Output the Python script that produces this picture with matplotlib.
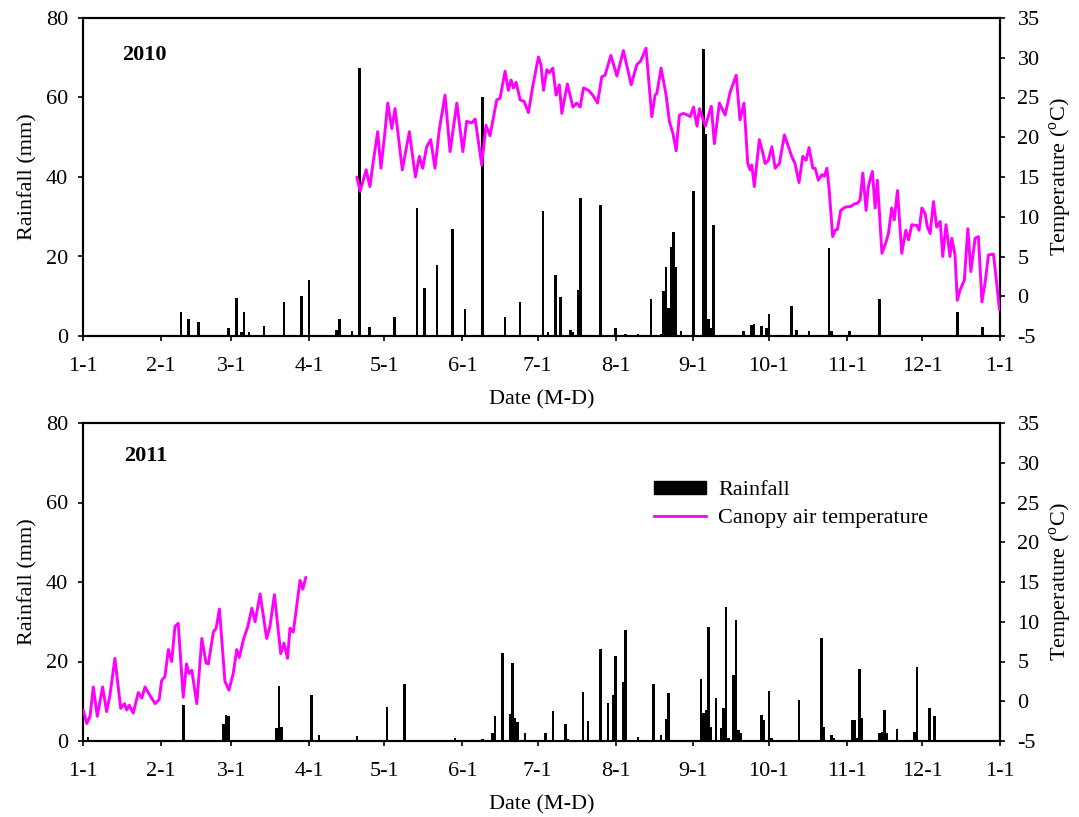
import matplotlib
matplotlib.use("Agg")
import matplotlib.pyplot as plt
from matplotlib.patches import Patch
from matplotlib.lines import Line2D

plt.rcParams['font.family'] = ['Liberation Serif', 'DejaVu Serif']
plt.rcParams['mathtext.fontset'] = 'custom'
plt.rcParams['mathtext.rm'] = 'Liberation Serif'
plt.rcParams['axes.unicode_minus'] = False

# ---- data (day of year, 0 = Jan 1) ----
month_starts = [0, 31, 59, 90, 120, 151, 181, 212, 243, 273, 304, 334, 365]
month_labels = ["1-1", "2-1", "3-1", "4-1", "5-1", "6-1", "7-1", "8-1",
                "9-1", "10-1", "11-1", "12-1", "1-1"]

rain2010_day = [39, 42, 46, 58, 61, 63, 64, 66, 72, 80, 87, 90, 101, 102, 107,
                110, 114, 124, 133, 136, 141, 147, 152, 159, 168, 174, 183,
                185, 188, 190, 194, 195, 197, 198, 206, 212, 216, 221, 226,
                230, 231, 232, 233, 234, 235, 236, 238, 243, 247, 248, 249,
                250, 251, 263, 266, 267, 270, 272, 273, 282, 284, 289, 297,
                298, 305, 317, 348, 358]
rain2010_mm = [6.1, 4.2, 3.5, 1.9, 9.6, 1.0, 6.1, 1.0, 2.5, 8.5, 10.1, 14.1,
               1.5, 4.4, 1.3, 67.4, 2.2, 4.7, 32.1, 12.2, 17.9, 26.8, 6.7,
               60.2, 4.9, 8.6, 31.4, 1.0, 15.3, 9.9, 1.6, 1.0, 11.6, 34.6,
               32.9, 1.9, 0.5, 0.6, 9.4, 0.4, 11.4, 17.4, 7.0, 22.3, 26.1,
               17.4, 1.3, 36.6, 72.2, 50.7, 4.4, 1.9, 27.8, 1.2, 2.8, 3.1,
               2.5, 1.9, 5.5, 7.5, 1.5, 1.2, 22.1, 1.3, 1.2, 9.2, 6.0, 2.2]

temp2010_day = [109.0, 110.3, 112.7, 114.2, 115.6, 117.3, 118.6, 120.0, 121.3,
                122.9, 124.2, 127.1, 129.9, 132.3, 133.9, 135.2, 136.8, 138.4,
                140.1, 141.8, 144.1, 146.1, 148.8, 151.2, 152.7, 154.7, 156.1,
                158.7, 160.4, 162.0, 164.7, 166.0, 168.0, 169.3, 170.4, 171.3,
                172.4, 174.0, 175.6, 177.3, 179.0, 181.3, 182.3, 183.3, 184.6,
                185.6, 187.0, 188.3, 189.6, 190.6, 192.8, 195.0, 196.5, 197.9,
                199.2, 201.2, 202.9, 204.8, 206.5, 207.8, 210.1, 212.5, 215.1,
                218.2, 220.4, 222.0, 224.1, 226.4, 227.7, 228.4, 230.1, 232.0,
                233.4, 234.8, 236.1, 237.4, 239.0, 240.6, 241.7, 243.0, 244.4,
                245.4, 247.7, 250.1, 251.3, 253.3, 255.6, 257.6, 260.0, 261.5,
                263.1, 264.6, 265.5, 266.2, 267.2, 269.2, 270.6, 271.5, 272.8,
                274.2, 275.5, 277.2, 279.2, 280.8, 282.1, 283.4, 285.0, 286.5,
                287.8, 289.0, 290.5, 291.4, 292.7, 294.1, 295.1, 296.1, 297.0,
                298.4, 299.4, 300.3, 301.6, 303.3, 305.6, 306.9, 308.2, 309.3,
                310.4, 311.7, 312.6, 314.2, 315.3, 316.2, 318.0, 319.5, 320.6,
                321.9, 322.9, 324.2, 325.9, 327.5, 328.6, 329.9, 331.9, 332.8,
                333.9, 335.2, 336.1, 337.2, 338.5, 339.8, 341.2, 342.2, 343.5,
                345.1, 345.8, 347.1, 348.0, 349.1, 350.8, 352.2, 353.4, 355.1,
                356.4, 357.8, 359.1, 360.4, 362.4, 363.7, 364.8]
temp2010_c = [15.0, 13.2, 15.9, 13.8, 17.1, 20.7, 16.1, 20.1, 24.3,
              21.1, 23.6, 15.9, 20.7, 15.0, 17.6, 16.1, 18.8, 19.7,
              16.1, 20.9, 25.3, 18.2, 24.3, 18.2, 22.0, 21.8, 22.3,
              16.5, 21.5, 20.2, 24.7, 24.9, 28.3, 25.9, 27.2, 26.2,
              26.9, 24.7, 24.5, 23.1, 26.4, 30.1, 29.1, 25.9, 28.5,
              28.1, 28.7, 25.3, 26.6, 23.0, 26.7, 23.8, 24.3, 23.8,
              26.2, 25.9, 25.3, 24.3, 27.6, 27.8, 30.3, 27.7, 30.9,
              26.6, 29.1, 29.6, 31.2, 22.6, 25.3, 25.5, 28.7, 25.5,
              22.0, 20.5, 18.3, 22.8, 23.0, 22.8, 22.6, 23.8, 21.4,
              23.6, 21.4, 23.9, 19.2, 24.3, 22.8, 25.7, 27.8, 22.2,
              24.3, 16.7, 15.9, 16.5, 13.8, 19.7, 18.0, 16.7, 17.1,
              18.8, 16.1, 16.7, 20.3, 18.8, 17.6, 16.7, 14.3, 17.6,
              17.1, 18.7, 16.1, 16.1, 14.6, 15.3, 15.1, 16.1, 13.4,
              7.5, 8.3, 8.4, 10.8, 11.2, 11.3, 11.6, 11.7, 12.1,
              15.5, 10.8, 13.8, 15.7, 11.1, 14.6, 5.4, 6.7, 7.9,
              11.1, 9.6, 13.3, 5.4, 8.3, 7.1, 9.0, 8.9, 8.3,
              11.1, 10.4, 8.7, 7.9, 11.9, 8.7, 9.4, 5.0, 9.0,
              5.0, 7.3, 5.2, -0.5, 0.8, 2.0, 8.5, 3.1, 7.3,
              7.5, -0.7, 1.8, 5.2, 5.3, 1.6, -1.7]

rain2011_day = [2, 40, 56, 57, 58, 77, 78, 79, 91, 94, 109, 121, 128, 129,
                148, 159, 163, 164, 167, 170, 171, 172, 173, 176, 184, 187,
                190, 192, 193, 199, 201, 206, 209, 211, 212, 215, 216, 221,
                227, 230, 232, 233, 246, 247, 248, 249, 250, 252, 254, 255,
                256, 257, 259, 260, 261, 262, 270, 271, 273, 274, 285, 294,
                295, 298, 299, 306, 307, 308, 309, 310, 317, 318, 319, 320,
                324, 331, 332, 333, 337, 339]
rain2011_mm = [1.0, 9.1, 4.4, 6.5, 6.3, 3.2, 13.8, 3.4, 11.6, 1.5, 1.3, 8.5,
               14.3, 0.3, 0.7, 0.4, 2.1, 6.3, 22.2, 6.8, 19.5, 5.7, 4.9, 2.1,
               2.1, 7.6, 0.3, 4.4, 0.4, 12.4, 5.1, 23.1, 9.5, 11.6, 21.5,
               14.9, 27.8, 1.1, 14.3, 1.5, 5.5, 12.2, 15.7, 7.1, 7.8, 28.6,
               3.4, 10.7, 3.2, 8.2, 33.8, 0.7, 16.6, 30.4, 2.8, 2.1, 6.5,
               5.3, 12.6, 0.8, 10.3, 25.8, 3.4, 1.5, 0.8, 5.3, 5.3, 0.7,
               18.0, 5.7, 1.9, 2.3, 7.8, 1.9, 2.9, 2.3, 18.5, 0.3, 8.2, 6.3]

temp2011_day = [0.1, 1.5, 2.8, 4.1, 5.7, 7.8, 9.4, 10.7, 12.7, 15.0, 16.5,
                17.4, 18.4, 20.0, 22.0, 23.4, 24.7, 26.7, 28.7, 30.3, 31.3,
                32.6, 34.0, 35.3, 36.6, 37.9, 39.9, 41.2, 42.2, 43.3, 45.3,
                47.3, 49.0, 49.9, 51.9, 53.0, 54.3, 56.5, 58.1, 59.8, 61.2,
                62.2, 63.8, 65.6, 67.2, 68.5, 70.5, 73.1, 74.4, 76.2, 78.7,
                80.0, 81.4, 82.4, 83.7, 86.4, 87.5, 88.7]
temp2011_c = [-1.1, -2.8, -1.9, 1.8, -1.9, 1.8, -1.3, 0.7, 5.4, -0.9, -0.3,
              -1.1, -0.5, -1.5, 1.1, 0.4, 1.8, 0.7, -0.3, 0.2, 2.6,
              3.1, 6.5, 5.0, 9.4, 9.8, 0.5, 4.7, 3.5, 3.9, -0.3,
              7.9, 4.8, 4.7, 8.7, 9.2, 11.6, 2.5, 1.4, 3.5, 6.5,
              5.5, 7.7, 9.4, 11.7, 10.0, 13.5, 7.9, 9.4, 13.4, 6.0,
              7.3, 5.4, 9.2, 8.7, 15.2, 14.1, 15.6]

panels = [
    ("2010", rain2010_day, rain2010_mm, temp2010_day, temp2010_c),
    ("2011", rain2011_day, rain2011_mm, temp2011_day, temp2011_c),
]

W, H = 1079, 817
fig = plt.figure(figsize=(W / 100, H / 100), dpi=100)
FS = 16
MAG = '#FF00FF'

boxes = [(83, 18, 1000, 336), (83, 423, 1000, 741)]
year_pos = [(0.043, 0.885), (0.045, 0.897)]
for (year, rd, rv, td, tv), (x0, y0, x1, y1), (tx, ty) in zip(panels, boxes, year_pos):
    ax = fig.add_axes([x0 / W, 1 - y1 / H, (x1 - x0) / W, (y1 - y0) / H])
    ax.bar(rd, rv, width=1.0, color='black', align='center', zorder=3)
    ax.set_xlim(0, 365)
    ax.set_ylim(0, 80)
    ax.set_yticks([0, 20, 40, 60, 80])
    ax.set_xticks(month_starts)
    ax.set_xticklabels(month_labels)
    ax.set_ylabel("Rainfall (mm)", fontsize=FS, labelpad=6)
    ax.set_xlabel("Date (M-D)", fontsize=FS, labelpad=10)
    ax.tick_params(axis='both', direction='out', length=3.6, width=1.2,
                   labelsize=FS, top=False, right=False)
    ax.tick_params(axis='x', pad=11.5)
    ax.tick_params(axis='y', pad=7)
    for s in ax.spines.values():
        s.set_linewidth(1.5)
    ax.text(tx, ty, year, transform=ax.transAxes, fontsize=FS,
            fontweight='bold', va='center', ha='left')

    ax2 = ax.twinx()
    ax2.plot(td, tv, color=MAG, linewidth=2.1, zorder=4,
             solid_joinstyle='round', solid_capstyle='round')
    ax2.set_ylim(-5, 35)
    ax2.set_yticks([-5, 0, 5, 10, 15, 20, 25, 30, 35])
    ax2.set_ylabel("Temperature ($^{\\rm o}$C)", fontsize=FS, labelpad=6)
    ax2.tick_params(axis='y', direction='out', length=3.6, width=1.2,
                    labelsize=FS, pad=9)
    for s in ax2.spines.values():
        s.set_linewidth(1.5)

    if year == "2011":
        handles = [Patch(facecolor='black', edgecolor='black'),
                   Line2D([0], [0], color=MAG, linewidth=2.0)]
        ax2.legend(handles, ["Rainfall", "Canopy air temperature"],
                   loc='upper left', bbox_to_anchor=(0.6227, 0.818),
                   frameon=False, fontsize=FS, handlelength=2.34,
                   handleheight=0.5, labelspacing=0.4, handletextpad=0.55,
                   borderpad=0, borderaxespad=0)

fig.savefig("out.png", dpi=100)
